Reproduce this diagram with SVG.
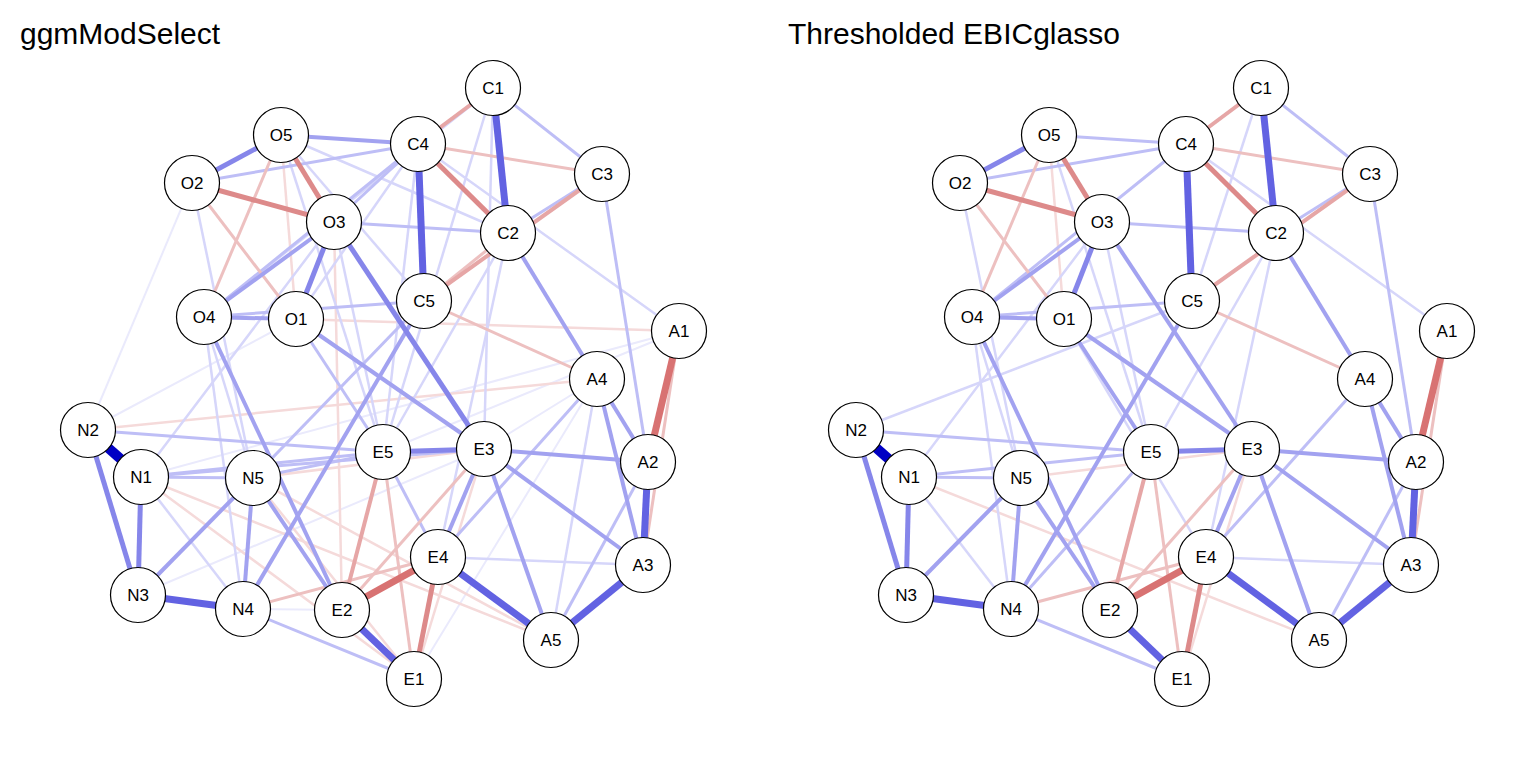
<svg xmlns="http://www.w3.org/2000/svg" width="1536" height="768" viewBox="0 0 1536 768">
<style>
.title{font-family:"Liberation Sans",Arial,sans-serif;font-size:30px;fill:#000}
.lbl{font-family:"Liberation Sans",Arial,sans-serif;font-size:17px;fill:#000;text-anchor:middle}
.nd{fill:#fff;stroke:#000;stroke-width:1.2}
line{stroke-linecap:butt}
.b1{stroke:#0000C4;stroke-width:10}
.b2{stroke:#6262E2;stroke-width:7}
.b3{stroke:#8686EA;stroke-width:5}
.b4{stroke:#A2A2F0;stroke-width:4}
.b5{stroke:#BEBEF6;stroke-width:3}
.b6{stroke:#D6D6FA;stroke-width:2.5}
.b7{stroke:#EAEAFC;stroke-width:2}
.r2{stroke:#D87272;stroke-width:7}
.r3{stroke:#DD8A8A;stroke-width:5}
.r4{stroke:#E6A6A6;stroke-width:4}
.r5{stroke:#EDC0C0;stroke-width:3}
.r6{stroke:#F5DADA;stroke-width:2.5}
</style>
<rect width="1536" height="768" fill="#fff"/>
<text class="title" x="20" y="44">ggmModSelect</text>
<text class="title" x="788" y="44">Thresholded EBICglasso</text>

<g id="left-edges">
<line class="b7" x1="192" y1="183" x2="88" y2="430"/>
<line class="b7" x1="138" y1="595" x2="484" y2="449"/>
<line class="b7" x1="414" y1="679" x2="597" y2="379"/>
<line class="b7" x1="88" y1="430" x2="296" y2="319"/>
<line class="b7" x1="679" y1="331" x2="383" y2="452"/>
<line class="b7" x1="679" y1="331" x2="141" y2="477"/>
<line class="b7" x1="597" y1="379" x2="484" y2="449"/>
<line class="b7" x1="243" y1="609" x2="342" y2="610"/>
<line class="r6" x1="296" y1="319" x2="679" y2="331"/>
<line class="r6" x1="253" y1="478" x2="484" y2="449"/>
<line class="r6" x1="88" y1="430" x2="597" y2="379"/>
<line class="r6" x1="141" y1="477" x2="551" y2="640"/>
<line class="r6" x1="551" y1="640" x2="253" y2="478"/>
<line class="r6" x1="334" y1="222" x2="342" y2="610"/>
<line class="r6" x1="414" y1="679" x2="484" y2="449"/>
<line class="r6" x1="141" y1="477" x2="414" y2="679"/>
<line class="r6" x1="253" y1="478" x2="414" y2="679"/>
<line class="r6" x1="281" y1="135" x2="296" y2="319"/>
<line class="b6" x1="141" y1="477" x2="243" y2="609"/>
<line class="b6" x1="243" y1="609" x2="204" y2="317"/>
<line class="b6" x1="551" y1="640" x2="597" y2="379"/>
<line class="b6" x1="643" y1="565" x2="438" y2="557"/>
<line class="b6" x1="508" y1="233" x2="438" y2="557"/>
<line class="b6" x1="508" y1="233" x2="383" y2="452"/>
<line class="b6" x1="418" y1="144" x2="679" y2="331"/>
<line class="b6" x1="204" y1="317" x2="253" y2="478"/>
<line class="b6" x1="192" y1="183" x2="253" y2="478"/>
<line class="b6" x1="334" y1="222" x2="383" y2="452"/>
<line class="b6" x1="141" y1="477" x2="334" y2="222"/>
<line class="b6" x1="281" y1="135" x2="383" y2="452"/>
<line class="b6" x1="281" y1="135" x2="508" y2="233"/>
<line class="b6" x1="281" y1="135" x2="424" y2="301"/>
<line class="b6" x1="493" y1="88" x2="204" y2="317"/>
<line class="b6" x1="493" y1="88" x2="383" y2="452"/>
<line class="b6" x1="418" y1="144" x2="383" y2="452"/>
<line class="b6" x1="418" y1="144" x2="296" y2="319"/>
<line class="b6" x1="493" y1="88" x2="484" y2="449"/>
<line class="b5" x1="418" y1="144" x2="204" y2="317"/>
<line class="b5" x1="493" y1="88" x2="602" y2="174"/>
<line class="b5" x1="602" y1="174" x2="508" y2="233"/>
<line class="b5" x1="508" y1="233" x2="334" y2="222"/>
<line class="b5" x1="192" y1="183" x2="418" y2="144"/>
<line class="b5" x1="204" y1="317" x2="424" y2="301"/>
<line class="b5" x1="296" y1="319" x2="383" y2="452"/>
<line class="b5" x1="88" y1="430" x2="383" y2="452"/>
<line class="b5" x1="141" y1="477" x2="253" y2="478"/>
<line class="b5" x1="141" y1="477" x2="383" y2="452"/>
<line class="b5" x1="141" y1="477" x2="484" y2="449"/>
<line class="b5" x1="243" y1="609" x2="414" y2="679"/>
<line class="b5" x1="551" y1="640" x2="648" y2="462"/>
<line class="b5" x1="597" y1="379" x2="438" y2="557"/>
<line class="b5" x1="602" y1="174" x2="648" y2="462"/>
<line class="b5" x1="253" y1="478" x2="424" y2="301"/>
<line class="b5" x1="253" y1="478" x2="383" y2="452"/>
<line class="b5" x1="334" y1="222" x2="418" y2="144"/>
<line class="b5" x1="438" y1="557" x2="383" y2="452"/>
<line class="r5" x1="679" y1="331" x2="643" y2="565"/>
<line class="r5" x1="418" y1="144" x2="602" y2="174"/>
<line class="r5" x1="424" y1="301" x2="597" y2="379"/>
<line class="r5" x1="281" y1="135" x2="204" y2="317"/>
<line class="r5" x1="243" y1="609" x2="438" y2="557"/>
<line class="r5" x1="508" y1="233" x2="424" y2="301"/>
<line class="r5" x1="192" y1="183" x2="296" y2="319"/>
<line class="r5" x1="484" y1="449" x2="342" y2="610"/>
<line class="r5" x1="414" y1="679" x2="383" y2="452"/>
<line class="b4" x1="138" y1="595" x2="253" y2="478"/>
<line class="b4" x1="253" y1="478" x2="243" y2="609"/>
<line class="b4" x1="253" y1="478" x2="342" y2="610"/>
<line class="b4" x1="204" y1="317" x2="342" y2="610"/>
<line class="b4" x1="243" y1="609" x2="424" y2="301"/>
<line class="b4" x1="597" y1="379" x2="643" y2="565"/>
<line class="b4" x1="597" y1="379" x2="648" y2="462"/>
<line class="b4" x1="484" y1="449" x2="648" y2="462"/>
<line class="b4" x1="484" y1="449" x2="643" y2="565"/>
<line class="b4" x1="484" y1="449" x2="551" y2="640"/>
<line class="b4" x1="484" y1="449" x2="438" y2="557"/>
<line class="b4" x1="204" y1="317" x2="334" y2="222"/>
<line class="b4" x1="204" y1="317" x2="296" y2="319"/>
<line class="b4" x1="508" y1="233" x2="597" y2="379"/>
<line class="b4" x1="281" y1="135" x2="418" y2="144"/>
<line class="b4" x1="296" y1="319" x2="484" y2="449"/>
<line class="r4" x1="383" y1="452" x2="342" y2="610"/>
<line class="r4" x1="493" y1="88" x2="418" y2="144"/>
<line class="r4" x1="602" y1="174" x2="424" y2="301"/>
<line class="b3" x1="88" y1="430" x2="138" y2="595"/>
<line class="b3" x1="141" y1="477" x2="138" y2="595"/>
<line class="b3" x1="484" y1="449" x2="383" y2="452"/>
<line class="b3" x1="281" y1="135" x2="192" y2="183"/>
<line class="b3" x1="334" y1="222" x2="296" y2="319"/>
<line class="b3" x1="334" y1="222" x2="484" y2="449"/>
<line class="r3" x1="438" y1="557" x2="414" y2="679"/>
<line class="r3" x1="418" y1="144" x2="508" y2="233"/>
<line class="r3" x1="281" y1="135" x2="334" y2="222"/>
<line class="r3" x1="192" y1="183" x2="334" y2="222"/>
<line class="b2" x1="138" y1="595" x2="243" y2="609"/>
<line class="b2" x1="342" y1="610" x2="414" y2="679"/>
<line class="b2" x1="438" y1="557" x2="551" y2="640"/>
<line class="b2" x1="551" y1="640" x2="643" y2="565"/>
<line class="b2" x1="648" y1="462" x2="643" y2="565"/>
<line class="b2" x1="493" y1="88" x2="508" y2="233"/>
<line class="b2" x1="418" y1="144" x2="424" y2="301"/>
<line class="r2" x1="342" y1="610" x2="438" y2="557"/>
<line class="r2" x1="679" y1="331" x2="648" y2="462"/>
<line class="b1" x1="88" y1="430" x2="141" y2="477"/>
</g>

<g id="left-nodes">
<g id="L_C1"><circle class="nd" cx="493" cy="88" r="27.5"/><text class="lbl" x="493" y="94">C1</text></g>
<g id="L_C3"><circle class="nd" cx="602" cy="174" r="27.5"/><text class="lbl" x="602" y="180">C3</text></g>
<g id="L_C4"><circle class="nd" cx="418" cy="144" r="27.5"/><text class="lbl" x="418" y="150">C4</text></g>
<g id="L_O5"><circle class="nd" cx="281" cy="135" r="27.5"/><text class="lbl" x="281" y="141">O5</text></g>
<g id="L_O2"><circle class="nd" cx="192" cy="183" r="27.5"/><text class="lbl" x="192" y="189">O2</text></g>
<g id="L_O3"><circle class="nd" cx="334" cy="222" r="27.5"/><text class="lbl" x="334" y="228">O3</text></g>
<g id="L_C2"><circle class="nd" cx="508" cy="233" r="27.5"/><text class="lbl" x="508" y="239">C2</text></g>
<g id="L_C5"><circle class="nd" cx="424" cy="301" r="27.5"/><text class="lbl" x="424" y="307">C5</text></g>
<g id="L_O4"><circle class="nd" cx="204" cy="317" r="27.5"/><text class="lbl" x="204" y="323">O4</text></g>
<g id="L_O1"><circle class="nd" cx="296" cy="319" r="27.5"/><text class="lbl" x="296" y="325">O1</text></g>
<g id="L_A1"><circle class="nd" cx="679" cy="331" r="27.5"/><text class="lbl" x="679" y="337">A1</text></g>
<g id="L_A4"><circle class="nd" cx="597" cy="379" r="27.5"/><text class="lbl" x="597" y="385">A4</text></g>
<g id="L_N2"><circle class="nd" cx="88" cy="430" r="27.5"/><text class="lbl" x="88" y="436">N2</text></g>
<g id="L_E5"><circle class="nd" cx="383" cy="452" r="27.5"/><text class="lbl" x="383" y="458">E5</text></g>
<g id="L_E3"><circle class="nd" cx="484" cy="449" r="27.5"/><text class="lbl" x="484" y="455">E3</text></g>
<g id="L_A2"><circle class="nd" cx="648" cy="462" r="27.5"/><text class="lbl" x="648" y="468">A2</text></g>
<g id="L_N1"><circle class="nd" cx="141" cy="477" r="27.5"/><text class="lbl" x="141" y="483">N1</text></g>
<g id="L_N5"><circle class="nd" cx="253" cy="478" r="27.5"/><text class="lbl" x="253" y="484">N5</text></g>
<g id="L_E4"><circle class="nd" cx="438" cy="557" r="27.5"/><text class="lbl" x="438" y="563">E4</text></g>
<g id="L_A3"><circle class="nd" cx="643" cy="565" r="27.5"/><text class="lbl" x="643" y="571">A3</text></g>
<g id="L_N3"><circle class="nd" cx="138" cy="595" r="27.5"/><text class="lbl" x="138" y="601">N3</text></g>
<g id="L_N4"><circle class="nd" cx="243" cy="609" r="27.5"/><text class="lbl" x="243" y="615">N4</text></g>
<g id="L_E2"><circle class="nd" cx="342" cy="610" r="27.5"/><text class="lbl" x="342" y="616">E2</text></g>
<g id="L_A5"><circle class="nd" cx="551" cy="640" r="27.5"/><text class="lbl" x="551" y="646">A5</text></g>
<g id="L_E1"><circle class="nd" cx="414" cy="679" r="27.5"/><text class="lbl" x="414" y="685">E1</text></g>
</g>

<g transform="translate(768,0)">
<g id="right-edges">
<line class="r6" x1="141" y1="477" x2="551" y2="640"/>
<line class="r6" x1="281" y1="135" x2="296" y2="319"/>
<line class="r6" x1="414" y1="679" x2="484" y2="449"/>
<line class="r6" x1="253" y1="478" x2="484" y2="449"/>
<line class="b6" x1="141" y1="477" x2="243" y2="609"/>
<line class="b6" x1="243" y1="609" x2="204" y2="317"/>
<line class="b6" x1="643" y1="565" x2="438" y2="557"/>
<line class="b6" x1="508" y1="233" x2="438" y2="557"/>
<line class="b6" x1="508" y1="233" x2="383" y2="452"/>
<line class="b6" x1="418" y1="144" x2="679" y2="331"/>
<line class="b6" x1="204" y1="317" x2="253" y2="478"/>
<line class="b6" x1="192" y1="183" x2="253" y2="478"/>
<line class="b6" x1="334" y1="222" x2="383" y2="452"/>
<line class="b6" x1="141" y1="477" x2="334" y2="222"/>
<line class="b6" x1="281" y1="135" x2="383" y2="452"/>
<line class="b6" x1="493" y1="88" x2="424" y2="301"/>
<line class="b6" x1="88" y1="430" x2="424" y2="301"/>
<line class="b6" x1="296" y1="319" x2="438" y2="557"/>
<line class="b5" x1="418" y1="144" x2="204" y2="317"/>
<line class="b5" x1="493" y1="88" x2="602" y2="174"/>
<line class="b5" x1="602" y1="174" x2="508" y2="233"/>
<line class="b5" x1="508" y1="233" x2="334" y2="222"/>
<line class="b5" x1="192" y1="183" x2="418" y2="144"/>
<line class="b5" x1="204" y1="317" x2="424" y2="301"/>
<line class="b5" x1="88" y1="430" x2="383" y2="452"/>
<line class="b5" x1="141" y1="477" x2="253" y2="478"/>
<line class="b5" x1="141" y1="477" x2="383" y2="452"/>
<line class="b5" x1="243" y1="609" x2="414" y2="679"/>
<line class="b5" x1="551" y1="640" x2="648" y2="462"/>
<line class="b5" x1="597" y1="379" x2="438" y2="557"/>
<line class="b5" x1="602" y1="174" x2="648" y2="462"/>
<line class="b5" x1="243" y1="609" x2="383" y2="452"/>
<line class="b5" x1="281" y1="135" x2="418" y2="144"/>
<line class="r5" x1="679" y1="331" x2="643" y2="565"/>
<line class="r5" x1="418" y1="144" x2="602" y2="174"/>
<line class="r5" x1="424" y1="301" x2="597" y2="379"/>
<line class="r5" x1="281" y1="135" x2="204" y2="317"/>
<line class="r5" x1="243" y1="609" x2="438" y2="557"/>
<line class="r5" x1="192" y1="183" x2="296" y2="319"/>
<line class="r5" x1="484" y1="449" x2="342" y2="610"/>
<line class="r5" x1="414" y1="679" x2="383" y2="452"/>
<line class="b4" x1="138" y1="595" x2="253" y2="478"/>
<line class="b4" x1="253" y1="478" x2="243" y2="609"/>
<line class="b4" x1="253" y1="478" x2="342" y2="610"/>
<line class="b4" x1="204" y1="317" x2="342" y2="610"/>
<line class="b4" x1="243" y1="609" x2="424" y2="301"/>
<line class="b4" x1="597" y1="379" x2="643" y2="565"/>
<line class="b4" x1="597" y1="379" x2="648" y2="462"/>
<line class="b4" x1="484" y1="449" x2="648" y2="462"/>
<line class="b4" x1="484" y1="449" x2="643" y2="565"/>
<line class="b4" x1="484" y1="449" x2="551" y2="640"/>
<line class="b4" x1="484" y1="449" x2="438" y2="557"/>
<line class="b4" x1="204" y1="317" x2="334" y2="222"/>
<line class="b4" x1="204" y1="317" x2="296" y2="319"/>
<line class="b4" x1="508" y1="233" x2="597" y2="379"/>
<line class="b4" x1="296" y1="319" x2="484" y2="449"/>
<line class="b4" x1="296" y1="319" x2="383" y2="452"/>
<line class="b4" x1="334" y1="222" x2="484" y2="449"/>
<line class="r4" x1="383" y1="452" x2="342" y2="610"/>
<line class="r4" x1="493" y1="88" x2="418" y2="144"/>
<line class="r4" x1="602" y1="174" x2="424" y2="301"/>
<line class="b3" x1="88" y1="430" x2="138" y2="595"/>
<line class="b3" x1="141" y1="477" x2="138" y2="595"/>
<line class="b3" x1="484" y1="449" x2="383" y2="452"/>
<line class="b3" x1="281" y1="135" x2="192" y2="183"/>
<line class="b3" x1="334" y1="222" x2="296" y2="319"/>
<line class="r3" x1="438" y1="557" x2="414" y2="679"/>
<line class="r3" x1="418" y1="144" x2="508" y2="233"/>
<line class="r3" x1="281" y1="135" x2="334" y2="222"/>
<line class="r3" x1="192" y1="183" x2="334" y2="222"/>
<line class="b2" x1="138" y1="595" x2="243" y2="609"/>
<line class="b2" x1="342" y1="610" x2="414" y2="679"/>
<line class="b2" x1="438" y1="557" x2="551" y2="640"/>
<line class="b2" x1="551" y1="640" x2="643" y2="565"/>
<line class="b2" x1="648" y1="462" x2="643" y2="565"/>
<line class="b2" x1="493" y1="88" x2="508" y2="233"/>
<line class="b2" x1="418" y1="144" x2="424" y2="301"/>
<line class="r2" x1="342" y1="610" x2="438" y2="557"/>
<line class="r2" x1="679" y1="331" x2="648" y2="462"/>
<line class="b1" x1="88" y1="430" x2="141" y2="477"/>
</g>
<g id="right-nodes">
<g id="R_C1"><circle class="nd" cx="493" cy="88" r="27.5"/><text class="lbl" x="493" y="94">C1</text></g>
<g id="R_C3"><circle class="nd" cx="602" cy="174" r="27.5"/><text class="lbl" x="602" y="180">C3</text></g>
<g id="R_C4"><circle class="nd" cx="418" cy="144" r="27.5"/><text class="lbl" x="418" y="150">C4</text></g>
<g id="R_O5"><circle class="nd" cx="281" cy="135" r="27.5"/><text class="lbl" x="281" y="141">O5</text></g>
<g id="R_O2"><circle class="nd" cx="192" cy="183" r="27.5"/><text class="lbl" x="192" y="189">O2</text></g>
<g id="R_O3"><circle class="nd" cx="334" cy="222" r="27.5"/><text class="lbl" x="334" y="228">O3</text></g>
<g id="R_C2"><circle class="nd" cx="508" cy="233" r="27.5"/><text class="lbl" x="508" y="239">C2</text></g>
<g id="R_C5"><circle class="nd" cx="424" cy="301" r="27.5"/><text class="lbl" x="424" y="307">C5</text></g>
<g id="R_O4"><circle class="nd" cx="204" cy="317" r="27.5"/><text class="lbl" x="204" y="323">O4</text></g>
<g id="R_O1"><circle class="nd" cx="296" cy="319" r="27.5"/><text class="lbl" x="296" y="325">O1</text></g>
<g id="R_A1"><circle class="nd" cx="679" cy="331" r="27.5"/><text class="lbl" x="679" y="337">A1</text></g>
<g id="R_A4"><circle class="nd" cx="597" cy="379" r="27.5"/><text class="lbl" x="597" y="385">A4</text></g>
<g id="R_N2"><circle class="nd" cx="88" cy="430" r="27.5"/><text class="lbl" x="88" y="436">N2</text></g>
<g id="R_E5"><circle class="nd" cx="383" cy="452" r="27.5"/><text class="lbl" x="383" y="458">E5</text></g>
<g id="R_E3"><circle class="nd" cx="484" cy="449" r="27.5"/><text class="lbl" x="484" y="455">E3</text></g>
<g id="R_A2"><circle class="nd" cx="648" cy="462" r="27.5"/><text class="lbl" x="648" y="468">A2</text></g>
<g id="R_N1"><circle class="nd" cx="141" cy="477" r="27.5"/><text class="lbl" x="141" y="483">N1</text></g>
<g id="R_N5"><circle class="nd" cx="253" cy="478" r="27.5"/><text class="lbl" x="253" y="484">N5</text></g>
<g id="R_E4"><circle class="nd" cx="438" cy="557" r="27.5"/><text class="lbl" x="438" y="563">E4</text></g>
<g id="R_A3"><circle class="nd" cx="643" cy="565" r="27.5"/><text class="lbl" x="643" y="571">A3</text></g>
<g id="R_N3"><circle class="nd" cx="138" cy="595" r="27.5"/><text class="lbl" x="138" y="601">N3</text></g>
<g id="R_N4"><circle class="nd" cx="243" cy="609" r="27.5"/><text class="lbl" x="243" y="615">N4</text></g>
<g id="R_E2"><circle class="nd" cx="342" cy="610" r="27.5"/><text class="lbl" x="342" y="616">E2</text></g>
<g id="R_A5"><circle class="nd" cx="551" cy="640" r="27.5"/><text class="lbl" x="551" y="646">A5</text></g>
<g id="R_E1"><circle class="nd" cx="414" cy="679" r="27.5"/><text class="lbl" x="414" y="685">E1</text></g>
</g>
</g>
</svg>
